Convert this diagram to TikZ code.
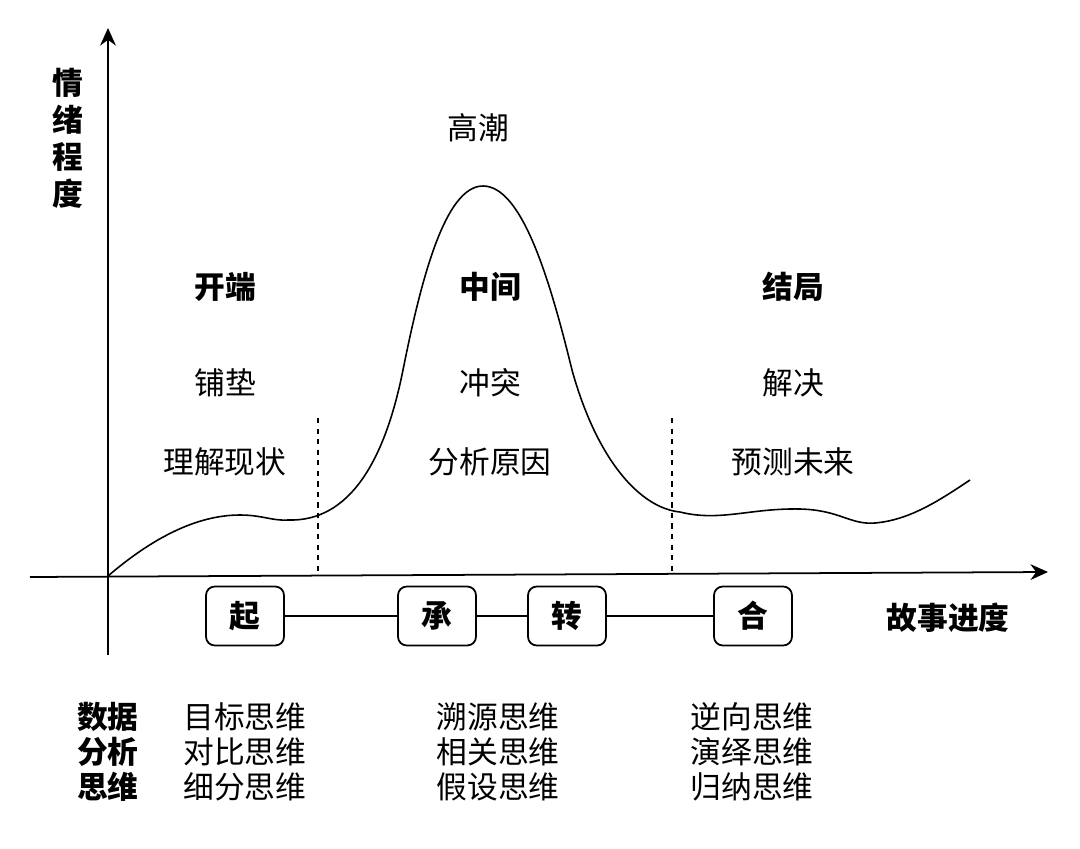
\documentclass[tikz,border=0pt]{standalone}
\usepackage{fontspec}
\setmainfont{Noto Sans CJK SC}
\usetikzlibrary{positioning,arrows.meta}
\begin{document}
\begin{tikzpicture}[x=0.02cm,y=-0.02cm,
  every node/.style={font=\fontsize{17.5}{21}\selectfont},
  title node/.style={font=\fontsize{17.5}{21}\selectfont\bfseries},
  list node/.style={align=center,font=\fontsize{17.5}{19.8}\selectfont},
  stage node/.style={draw,line width=1pt,rounded corners=5pt,minimum width=1.56cm,minimum height=1.18cm,font=\fontsize{17.5}{21}\selectfont\bfseries},
  axis/.style={line width=1pt,-{Stealth[length=10pt,width=9pt]}}]
  \useasboundingbox (0,0) rectangle (1080,849);

  % axes
  \coordinate (o) at (108,576);
  \coordinate (ytop) at (108,28);
  \coordinate (ybot) at (108,655);
  \coordinate (xleft) at (30,577);
  \coordinate (xright) at (1048,572);
  \draw[axis] (ybot) -- (ytop);
  \draw[axis] (xleft) -- (xright);

  % curve
  \draw[line width=0.9pt] (o)
    .. controls (150,540) and (195,515) .. (240,515)
    .. controls (262,515) and (272,521) .. (288,520)
    .. controls (350,522) and (385,460) .. (403,370)
    .. controls (421,280) and (445,186) .. (483,186)
    .. controls (522,186) and (550,280) .. (572,370)
    .. controls (597,460) and (640,508) .. (680,512)
    .. controls (720,522) and (750,508) .. (800,509)
    .. controls (840,510) and (850,525) .. (875,523)
    .. controls (910,520) and (940,500) .. (970,480);

  % dividers
  \draw[dashed,line width=0.8pt] (318,418) -- (318,576);
  \draw[dashed,line width=0.8pt] (672,418) -- (672,573);

  % labels
  \node (climax) at (478,128) {高潮};
  \node[title node] (begin) at (225,287) {开端};
  \node[title node] (middle) at (490,287) {中间};
  \node[title node] (end) at (793,287) {结局};
  \node (setup) at (225,383) {铺垫};
  \node (conflict) at (490,383) {冲突};
  \node (resolve) at (793,383) {解决};
  \node (now) at (225,462) {理解现状};
  \node (cause) at (490,462) {分析原因};
  \node (future) at (793,462) {预测未来};
  \node[title node,align=center] (ylabel) at (68,138) {情\\绪\\程\\度};
  \node[title node] (xlabel) at (948,618) {故事进度};

  % stages
  \node[stage node] (qi) at (245,616) {起};
  \node[stage node] (cheng) at (437,616) {承};
  \node[stage node] (zhuan) at (567,616) {转};
  \node[stage node] (he) at (753,616) {合};
  \path[line width=1pt]
    (qi) edge (cheng)
    (cheng) edge (zhuan)
    (zhuan) edge (he);

  % thinking
  \node[list node,font=\fontsize{17.5}{19.8}\selectfont\bfseries] (data) at (108,752) {数据\\分析\\思维};
  \node[list node] (think1) at (245,752) {目标思维\\对比思维\\细分思维};
  \node[list node] (think2) at (498,752) {溯源思维\\相关思维\\假设思维};
  \node[list node] (think3) at (752,752) {逆向思维\\演绎思维\\归纳思维};
\end{tikzpicture}
\end{document}
